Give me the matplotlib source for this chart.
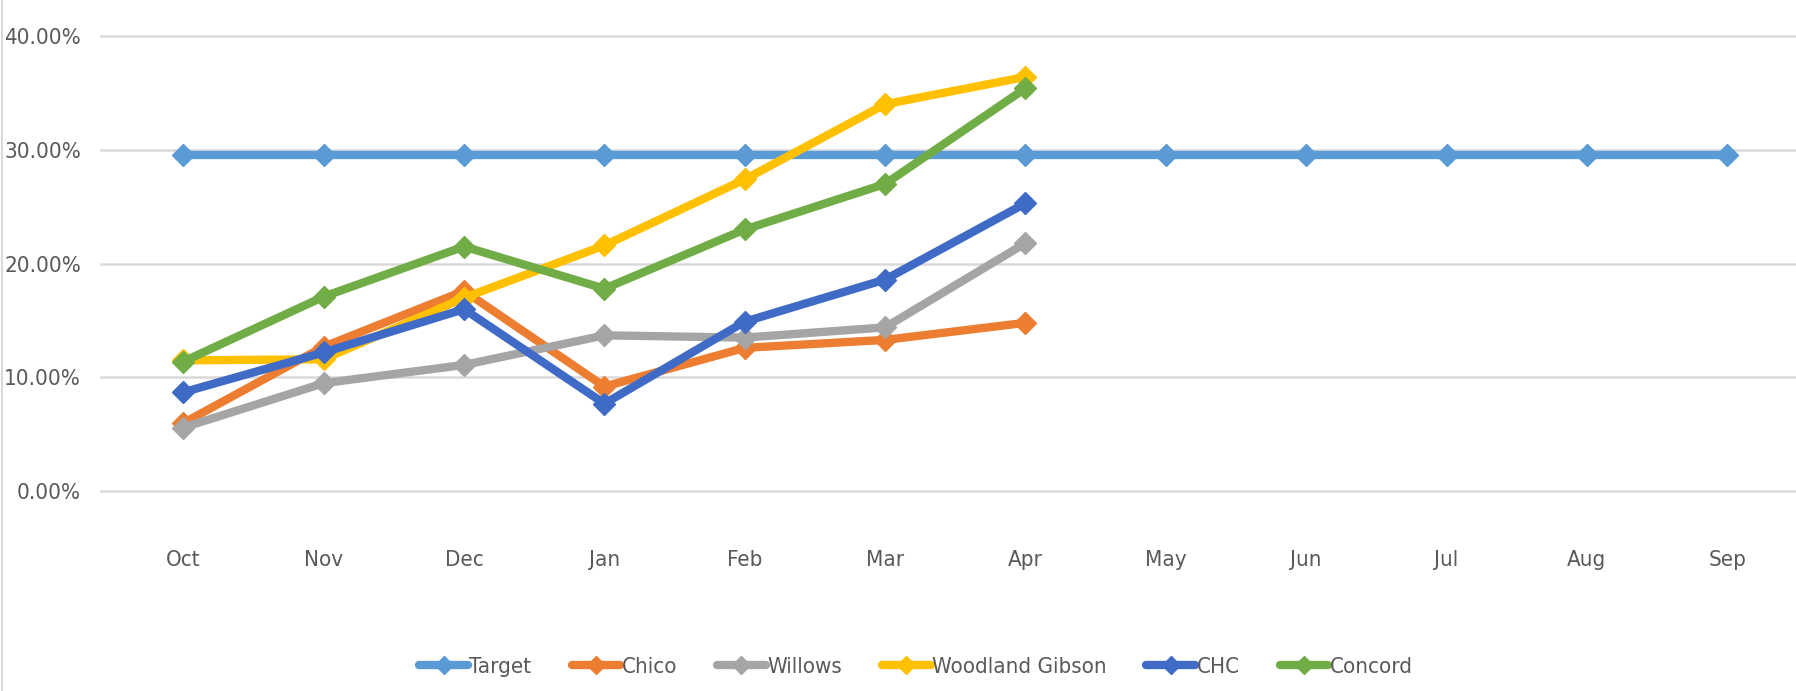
import matplotlib.pyplot as plt
from matplotlib.ticker import FuncFormatter

# data
months = ["Oct", "Nov", "Dec", "Jan", "Feb", "Mar", "Apr",
          "May", "Jun", "Jul", "Aug", "Sep"]

target = [29.5] * 12
chico = [6.0, 12.7, 17.6, 9.2, 12.6, 13.3, 14.8]
willows = [5.6, 9.5, 11.1, 13.7, 13.5, 14.4, 21.8]
woodland_gibson = [11.5, 11.6, 17.0, 21.6, 27.4, 34.0, 36.4]
chc = [8.7, 12.2, 16.0, 7.7, 14.9, 18.6, 25.3]
concord = [11.4, 17.1, 21.5, 17.8, 23.0, 27.0, 35.4]

series = [
    ("Target", target, "#5B9BD5"),
    ("Chico", chico, "#ED7D31"),
    ("Willows", willows, "#A5A5A5"),
    ("Woodland Gibson", woodland_gibson, "#FFC000"),
    ("CHC", chc, "#3F6BC6"),
    ("Concord", concord, "#70AD47"),
]

plt.rcParams["font.family"] = ["DejaVu Sans"]
plt.rcParams["font.stretch"] = "condensed"

fig = plt.figure(figsize=(17.96, 6.91), dpi=100)
ax = fig.add_axes([0.056, 0.289, 0.944, 0.659])

# faint chart border on the left
fig.add_artist(plt.Line2D([0.001, 0.001], [0, 1], color="#D9D9D9", lw=1.5))

for name, vals, color in series:
    x = list(range(len(vals)))
    ax.plot(x, vals, color=color, lw=6, marker="D",
            markersize=11, label=name, solid_capstyle="round", zorder=3)

ax.set_xlim(-0.59, 11.49)
ax.set_ylim(0, 40)
ax.set_yticks([0, 10, 20, 30, 40])
ax.yaxis.set_major_formatter(FuncFormatter(lambda v, p: f"{v:.2f}%"))
ax.set_xticks(range(len(months)))
ax.set_xticklabels(months)

ax.grid(axis="y", color="#D9D9D9", lw=1.8, zorder=0)
for gl in ax.get_ygridlines():
    gl.set_clip_on(False)
for s in ax.spines.values():
    s.set_visible(False)
ax.tick_params(length=0, labelsize=16, colors="#595959")
ax.tick_params(axis="y", pad=14)
ax.tick_params(axis="x", pad=42)

fig.legend(*ax.get_legend_handles_labels(), loc="center",
           bbox_to_anchor=(0.51, 0.035), ncol=6,
           frameon=False, fontsize=16, handlelength=2.2, markerscale=0.8,
           handletextpad=0.05, columnspacing=1.8, labelcolor="#595959")

fig.savefig("out.png", dpi=100)
